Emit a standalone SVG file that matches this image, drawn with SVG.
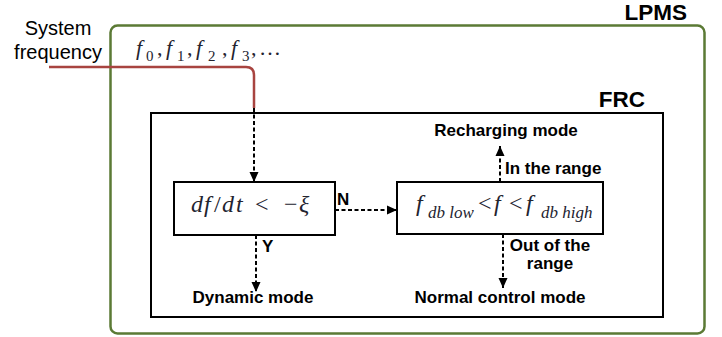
<svg xmlns="http://www.w3.org/2000/svg" width="722" height="337" viewBox="0 0 722 337">
  <defs>
    <marker id="arrow" viewBox="0 0 10 10" refX="10" refY="5" markerWidth="10" markerHeight="10" markerUnits="userSpaceOnUse" orient="auto">
      <path d="M0,0.5 L10,5 L0,9.5 z" fill="#000"/>
    </marker>
    <style>
      .lbl{font-family:"Liberation Sans",Arial,sans-serif;font-weight:bold;font-size:17px;fill:#000}
      .plain{font-family:"Liberation Sans",Arial,sans-serif;font-size:20px;fill:#000}
      .head{font-size:22.5px}
      .math{font-family:"Liberation Serif","DejaVu Serif",serif;font-style:italic;fill:#23232f}
      .up{font-style:normal}
      .flow{stroke:#000;stroke-width:2;stroke-dasharray:4 2.5;fill:none}
      .box{fill:#fff;stroke:#000;stroke-width:2}
    </style>
  </defs>

  <rect width="722" height="337" fill="#fff"/>

  <!-- LPMS outer container -->
  <g id="lpms">
    <rect x="110.5" y="25.5" width="594" height="308" rx="7" fill="none" stroke="#5b7a35" stroke-width="2.5"/>
    <text class="lbl head" x="687" y="20" text-anchor="end">LPMS</text>
    <text class="math" font-size="22" y="55">
      <tspan x="136">f</tspan><tspan class="up" x="146" y="61" font-size="15">0</tspan><tspan class="up" x="157" y="55">,</tspan>
      <tspan x="166">f</tspan><tspan class="up" x="177" y="61" font-size="15">1</tspan><tspan class="up" x="187" y="55">,</tspan>
      <tspan x="196">f</tspan><tspan class="up" x="208" y="61" font-size="15">2</tspan><tspan class="up" x="222" y="55">,</tspan>
      <tspan x="231">f</tspan><tspan class="up" x="242" y="61" font-size="15">3</tspan><tspan class="up" x="251" y="55">,</tspan>
      <tspan class="up" x="259">…</tspan>
    </text>
  </g>

  <!-- System frequency input -->
  <g id="system-frequency">
    <text class="plain" x="58" y="35" text-anchor="middle">System</text>
    <text class="plain" x="58" y="59" text-anchor="middle">frequency</text>
    <path d="M49,67 H246 Q254,67 254,75 V108" fill="none" stroke="#a84440" stroke-width="2.5"/>
  </g>

  <!-- FRC controller -->
  <g id="frc">
    <rect x="151" y="113" width="512" height="204" fill="none" stroke="#000" stroke-width="2"/>
    <text class="lbl head" x="645" y="107" text-anchor="end">FRC</text>
  </g>

  <!-- Rate-of-change check -->
  <g id="rocof-check">
    <rect class="box" x="174" y="182" width="161" height="53"/>
    <text class="math" font-size="24" y="212">
      <tspan x="191">d</tspan><tspan x="204">f</tspan><tspan class="up" x="214">/</tspan><tspan x="222">d</tspan><tspan x="236">t</tspan><tspan class="up" x="255">&lt;</tspan><tspan class="up" x="284">−</tspan><tspan x="299">ξ</tspan>
    </text>
  </g>

  <!-- Deadband check -->
  <g id="deadband-check">
    <rect class="box" x="397" y="182" width="206" height="52"/>
    <text class="math" font-size="24" y="211">
      <tspan x="416">f</tspan><tspan x="428" y="218" font-size="17">db low</tspan><tspan class="up" x="478" y="211">&lt;</tspan><tspan x="494">f</tspan><tspan class="up" x="509">&lt;</tspan><tspan x="526">f</tspan><tspan x="541" y="218" font-size="17">db high</tspan>
    </text>
  </g>

  <!-- Operating modes -->
  <g id="recharging-mode">
    <text class="lbl" x="506" y="136" text-anchor="middle">Recharging mode</text>
  </g>
  <g id="dynamic-mode">
    <text class="lbl" x="253" y="303" text-anchor="middle">Dynamic mode</text>
  </g>
  <g id="normal-mode">
    <text class="lbl" x="500" y="303" text-anchor="middle">Normal control mode</text>
  </g>

  <!-- Connectors -->
  <g id="connectors">
    <path class="flow" d="M254,108 V182" marker-end="url(#arrow)"/>
    <path class="flow" d="M335,210 H397" marker-end="url(#arrow)"/>
    <path class="flow" d="M256,235 V292" marker-end="url(#arrow)"/>
    <path class="flow" d="M500,182 V146" marker-end="url(#arrow)"/>
    <path class="flow" d="M503,234 V288" marker-end="url(#arrow)"/>
    <text class="lbl" x="337" y="205">N</text>
    <text class="lbl" x="262" y="252">Y</text>
    <text class="lbl" x="505" y="174">In the range</text>
    <text class="lbl" x="550" y="251" text-anchor="middle">Out of the</text>
    <text class="lbl" x="550" y="269" text-anchor="middle">range</text>
  </g>
</svg>
